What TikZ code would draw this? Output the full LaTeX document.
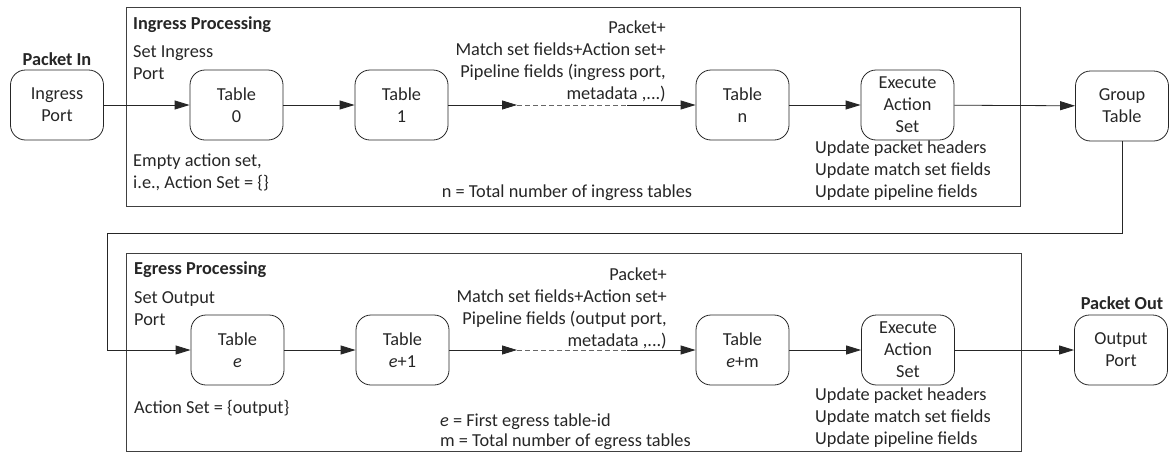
\documentclass[tikz,border=0pt]{standalone}
\usepackage{fontspec}
\setmainfont{Carlito}
\usetikzlibrary{arrows.meta}
\begin{document}
\begin{tikzpicture}[x=1pt,y=-1pt,
  every node/.style={font=\fontsize{18.3}{22}\selectfont, inner sep=0pt, text=black!85},
  blk/.style={draw=black!85, line width=0.8pt, rounded corners=15pt, minimum width=93pt, minimum height=70pt, align=center},
  frame/.style={draw=black!75, line width=0.9pt, anchor=north west},
  arr/.style={-{Triangle[length=15pt,width=9pt]}, line width=0.8pt, draw=black!85},
  dsh/.style={dashed, dash pattern=on 5pt off 3pt, draw=black!60, line width=0.8pt},
  lbl/.style={align=left, anchor=west},
  rlbl/.style={align=right, anchor=east},
  ttl/.style={anchor=west, font=\fontsize{18.3}{22}\selectfont\bfseries}]
\useasboundingbox (0,0) rectangle (1170,453);
% frames
\node[frame, minimum width=894.5pt, minimum height=199pt] (ing) at (125.5,7) {};
\node[frame, minimum width=895pt, minimum height=198pt] (egr) at (126,253) {};
% ingress row
\node[blk] (inport) at (57,105) {Ingress\\Port};
\node[blk] (t0) at (236.5,105) {Table\\0};
\node[blk] (t1) at (401.5,105) {Table\\1};
\node[blk] (tn) at (742.5,105) {Table\\n};
\node[blk] (ex1) at (907.5,105) {Execute\\Action\\Set};
\node[blk] (grp) at (1122,106) {Group\\Table};
% egress row
\node[blk] (te) at (237.5,350) {Table\\\textit{e}};
\node[blk] (te1) at (402.5,350) {Table\\\textit{e}+1};
\node[blk] (tem) at (742.5,350) {Table\\\textit{e}+m};
\node[blk] (ex2) at (908,350) {Execute\\Action\\Set};
\node[blk] (outport) at (1121,350) {Output\\Port};
% connectors ingress
\coordinate (d1) at (517,105);
\coordinate (d2) at (627,105);
\draw[arr] (inport) -- (t0);
\draw[arr] (t0) -- (t1);
\draw[arr] (t1) -- (d1);
\draw[dsh] (d1) -- (d2);
\draw[arr] (d2) -- (tn);
\draw[arr] (tn) -- (ex1);
\draw[arr] (ex1) -- (grp);
% loop
\coordinate (lp) at (107,233);
\draw[arr] (grp.south) |- (lp) |- (te.west);
% connectors egress
\coordinate (e1) at (517,350);
\coordinate (e2) at (627,350);
\draw[arr] (te) -- (te1);
\draw[arr] (te1) -- (e1);
\draw[dsh] (e1) -- (e2);
\draw[arr] (e2) -- (tem);
\draw[arr] (tem) -- (ex2);
\draw[arr] (ex2) -- (outport);
% ingress labels
\node[ttl] (ingt) at (133,25) {Ingress Processing};
\node[font=\fontsize{18.3}{22}\selectfont\bfseries] (pin) at (57,59) {Packet In};
\node[lbl] (sip) at (133,63) {Set Ingress\\Port};
\node[lbl] (eas) at (133,172.5) {Empty action set,\\i.e., Action Set = \{\}};
\node[rlbl] (pk1) at (666,61.5) {Packet+\\Match set fields+Action set+\\Pipeline fields (ingress port,\\metadata ,...)};
\node (nt) at (567,193) {n = Total number of ingress tables};
\node[lbl] (up1) at (815,171) {Update packet headers\\Update match set fields\\Update pipeline fields};
% egress labels
\node[ttl] (egt) at (134,270) {Egress Processing};
\node[font=\fontsize{18.3}{22}\selectfont\bfseries] (pout) at (1122,303) {Packet Out};
\node[lbl] (sop) at (134,309) {Set Output\\Port};
\node[lbl] (aso) at (134,408) {Action Set = \{output\}};
\node[rlbl] (pk2) at (667,308) {Packet+\\Match set fields+Action set+\\Pipeline fields (output port,\\metadata ,...)};
\node[lbl, font=\fontsize{18.3}{20}\selectfont] (em) at (440,432) {\textit{e} = First egress table-id\\m = Total number of egress tables};
\node[lbl] (up2) at (815,418) {Update packet headers\\Update match set fields\\Update pipeline fields};
\end{tikzpicture}
\end{document}
